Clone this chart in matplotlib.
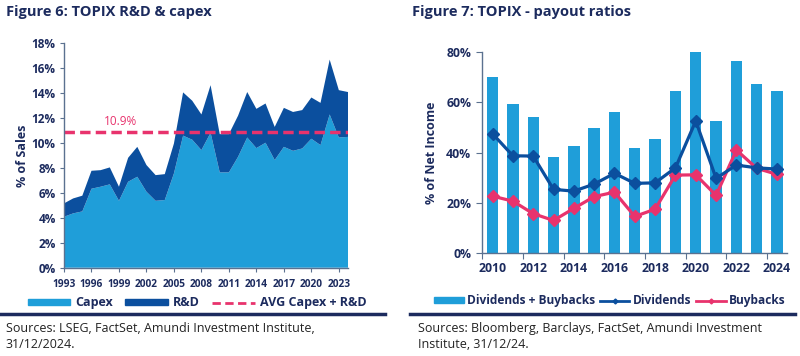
import numpy as np
import matplotlib.pyplot as plt
from matplotlib.lines import Line2D

plt.rcParams['font.family'] = ['Open Sans', 'DejaVu Sans']

# ---- Figure 6 data: TOPIX R&D & capex (% of sales)
years6 = list(range(1993, 2025))
capex = [4.09, 4.36, 4.52, 6.34, 6.50, 6.69, 5.37, 6.90, 7.30, 6.10, 5.37, 5.43, 7.57, 10.60,
         10.27, 9.44, 10.83, 7.65, 7.65, 8.90, 10.45, 9.60, 10.03, 8.64, 9.70, 9.38, 9.57,
         10.35, 9.84, 12.30, 10.45, 10.50]
rnd = [1.07, 1.20, 1.26, 1.44, 1.33, 1.36, 1.13, 1.92, 2.40, 2.14, 2.06, 2.08, 2.40, 3.47,
       3.13, 2.86, 3.82, 3.07, 3.07, 3.30, 3.65, 3.15, 3.15, 2.66, 3.13, 3.12, 3.08,
       3.31, 3.39, 4.40, 3.80, 3.60]
avg_total = 10.9
ticks6 = list(range(1993, 2024, 3))

# ---- Figure 7 data: TOPIX payout ratios (% of net income)
years7 = list(range(2010, 2025))
total_payout = [70.3, 59.4, 54.3, 38.3, 42.6, 49.8, 56.2, 41.9, 45.5, 64.4, 80.0, 52.6, 76.5, 67.2, 64.4]
dividends = [47.5, 38.7, 38.6, 25.3, 24.6, 27.4, 31.7, 27.7, 27.9, 33.9, 52.6, 29.7, 35.0, 33.9, 33.4]
buybacks = [22.6, 20.6, 15.6, 12.9, 17.7, 22.4, 24.2, 14.5, 17.4, 31.0, 31.1, 22.9, 41.0, 33.7, 31.3]
labels7 = list(range(2010, 2025, 2))

navy = '#1c2b5e'
light = '#1f9ed9'
dark = '#0b4f9e'
pink = '#e8336d'
spine = '#5b7190'

fig = plt.figure(figsize=(8, 3.56), dpi=100)

# ================= left chart
ax1 = fig.add_axes([0.08, 0.248, 0.355, 0.630])
ax1.stackplot(years6, capex, rnd, colors=[light, dark], labels=['Capex', 'R&D'], lw=0)
ax1.axhline(avg_total, color=pink, lw=2.5, ls=(0, (3, 1.5)), label='AVG Capex + R&D')
ax1.text(1999.2, avg_total + 0.85, f'{avg_total}%', color=pink, fontsize=8.5, ha='center', va='center')
ax1.set_xlim(1993, 2024)
ax1.set_ylim(0, 18)
ax1.set_yticks(np.arange(0, 19, 2))
ax1.set_yticklabels([f'{v}%' for v in range(0, 19, 2)])
ax1.set_xticks(ticks6)
ax1.set_xticklabels([str(y) for y in ticks6], fontsize=7.3)
ax1.set_ylabel('% of Sales', fontsize=9, fontweight='bold', color=navy, labelpad=2)
ax1.tick_params(axis='y', labelsize=8.5, length=3, color=spine, labelcolor=navy, pad=3)
ax1.tick_params(axis='x', length=3, color=spine, labelcolor=navy, pad=5)
for lab in ax1.get_xticklabels() + ax1.get_yticklabels():
    lab.set_fontweight('bold')
for s in ['top', 'right']:
    ax1.spines[s].set_visible(False)
for s in ['left', 'bottom']:
    ax1.spines[s].set_color(spine)
    ax1.spines[s].set_linewidth(1)
h1 = [plt.Rectangle((0, 0), 1, 1, color=light), plt.Rectangle((0, 0), 1, 1, color=dark),
      Line2D([], [], color=pink, lw=2, ls=(0, (3, 1.6)))]
leg1 = ax1.legend(h1, ['Capex', 'R&D', 'AVG Capex + R&D'], loc='center', ncol=3,
                  bbox_to_anchor=(0.468, -0.157), frameon=False, fontsize=9,
                  handlelength=3.4, handleheight=0.45, handletextpad=0.4, columnspacing=1.0,
                  borderpad=0, borderaxespad=0)
for t in leg1.get_texts():
    t.set_color(navy)
    t.set_fontweight('bold')

# ================= right chart
ax2 = fig.add_axes([0.603, 0.290, 0.381, 0.563])
ax2.bar(years7, total_payout, width=0.56, color=light, zorder=1)
ax2.plot(years7, dividends, color=dark, lw=2.3, marker='D', ms=6.5, zorder=3)
ax2.plot(years7, buybacks, color=pink, lw=2.3, marker='D', ms=6.5, zorder=2)
ax2.set_xlim(2009.5, 2024.5)
ax2.set_ylim(0, 80)
ax2.set_yticks(np.arange(0, 81, 20))
ax2.set_yticklabels([f'{v}%' for v in range(0, 81, 20)])
ax2.set_xticks(np.arange(2009.5, 2024, 2))
ax2.set_xticklabels([])
ax2.set_xticks(labels7, minor=True)
ax2.set_xticklabels([str(y) for y in labels7], minor=True)
ax2.tick_params(axis='x', which='major', length=4, color=spine)
ax2.tick_params(axis='x', which='minor', length=0, labelsize=8.8, labelcolor=navy, pad=7)
ax2.tick_params(axis='y', labelsize=8.8, length=4, color=spine, labelcolor=navy, pad=4)
for lab in ax2.get_xticklabels(minor=True) + ax2.get_yticklabels():
    lab.set_fontweight('bold')
ax2.set_ylabel('% of Net Income', fontsize=9, fontweight='bold', color=navy, labelpad=6)
for s in ['top', 'right']:
    ax2.spines[s].set_visible(False)
for s in ['left', 'bottom']:
    ax2.spines[s].set_color(spine)
    ax2.spines[s].set_linewidth(1)
h2 = [plt.Rectangle((0, 0), 1, 1, color=light),
      Line2D([], [], color=dark, lw=2, marker='D', ms=2.5),
      Line2D([], [], color=pink, lw=2, marker='D', ms=2.5)]
leg2 = ax2.legend(h2, ['Dividends + Buybacks', 'Dividends', 'Buybacks'], loc='center', ncol=3,
                  bbox_to_anchor=(0.417, -0.24), frameon=False, fontsize=8.6,
                  handlelength=2.5, handleheight=0.45, handletextpad=0.25, columnspacing=0.4,
                  borderpad=0, borderaxespad=0)
for t in leg2.get_texts():
    t.set_color(navy)
    t.set_fontweight('bold')

# ================= titles, rules and sources
fig.text(0.0075, 0.965, 'Figure 6: TOPIX R&D & capex', fontsize=10.5, fontweight='bold',
         color=navy, va='center')
fig.text(0.515, 0.965, 'Figure 7: TOPIX - payout ratios', fontsize=10.5, fontweight='bold',
         color=navy, va='center')
fig.add_artist(Line2D([0.0, 0.481], [0.118, 0.118], color=navy, lw=2.5))
fig.add_artist(Line2D([0.5125, 0.994], [0.118, 0.118], color=navy, lw=2.5))
fig.text(0.0075, 0.054, 'Sources: LSEG, FactSet, Amundi Investment Institute,\n31/12/2024.',
         fontsize=9, color='#222222', va='center', linespacing=1.3)
fig.text(0.5225, 0.054, 'Sources: Bloomberg, Barclays, FactSet, Amundi Investment\nInstitute, 31/12/24.',
         fontsize=9, color='#222222', va='center', linespacing=1.3)

fig.savefig('out.png', dpi=100)
